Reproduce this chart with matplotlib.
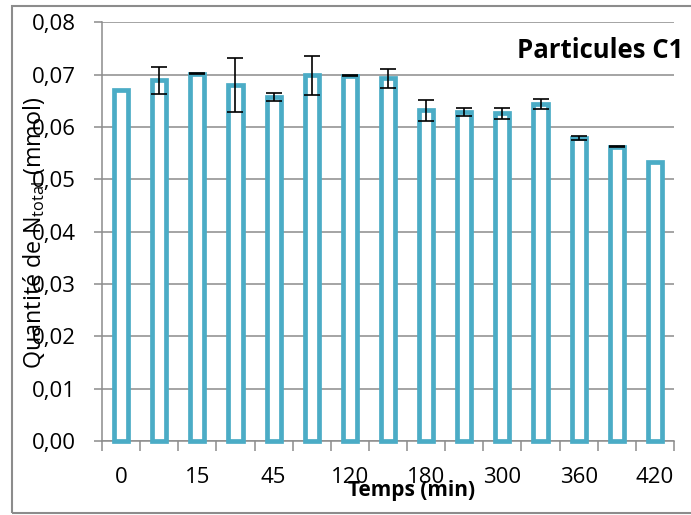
import matplotlib
matplotlib.use("Agg")
import matplotlib.pyplot as plt
from matplotlib.patches import Rectangle
from matplotlib.ticker import FuncFormatter, FixedLocator

plt.rcParams['font.family'] = ['Open Sans', 'DejaVu Sans']
plt.rcParams['mathtext.default'] = 'regular'

categories = ["0", "5", "15", "30", "45", "90", "120", "150", "180", "240", "300", "330", "360", "390", "420"]
values = [0.0670, 0.0689, 0.0702, 0.0680, 0.0657, 0.0699, 0.0698, 0.0693, 0.0632, 0.0629, 0.0626, 0.0644, 0.0579, 0.0562, 0.0533]
errors = [0.0, 0.0026, 0.0001, 0.0052, 0.0008, 0.0037, 0.0001, 0.0018, 0.0020, 0.0008, 0.0010, 0.0010, 0.0003, 0.0001, 0.0]
yticks = [0.00, 0.01, 0.02, 0.03, 0.04, 0.05, 0.06, 0.07, 0.08]

W, H = 691, 515
fig = plt.figure(figsize=(W / 100, H / 100), dpi=100)
ax = fig.add_axes([102 / W, 74 / H, (674 - 102) / W, (441 - 22.3) / H])

x = list(range(len(categories)))
ax.bar(x, values, width=0.37, color='white', edgecolor='#4BACC6', linewidth=3.4,
       zorder=3, clip_on=False)
ex = [xi for xi, e in zip(x, errors) if e > 0]
ev = [v for v, e in zip(values, errors) if e > 0]
ee = [e for e in errors if e > 0]
ax.errorbar(ex, ev, yerr=ee, fmt='none', ecolor='black', elinewidth=1.2,
            capsize=5.5, capthick=1.2, zorder=4)

ax.set_xlim(-0.5, len(categories) - 0.5)
ax.set_ylim(0, 0.08)
ax.set_yticks(yticks)
ax.yaxis.set_major_formatter(FuncFormatter(lambda v, p: f"{v:.2f}".replace('.', ',')))
ax.grid(axis='y', color='#8C8C8C', linewidth=1.1, zorder=0)
ax.set_axisbelow(True)

# x ticks: labels every other category, tick marks at category boundaries
ax.set_xticks(x[::2])
ax.set_xticklabels(categories[::2])
ax.xaxis.set_minor_locator(FixedLocator([i - 0.5 for i in range(len(categories) + 1)]))
ax.tick_params(axis='x', which='major', length=0, pad=19, labelsize=16)
ax.tick_params(axis='x', which='minor', length=7, width=1.1, color='#8C8C8C', direction='out')
ax.tick_params(axis='y', length=6, width=1.1, color='#8C8C8C', pad=13, labelsize=16)

for s in ['top', 'right']:
    ax.spines[s].set_visible(False)
for s in ['left', 'bottom']:
    ax.spines[s].set_color('#8C8C8C')
    ax.spines[s].set_linewidth(1.1)

fig.text(34 / W, 1 - 233 / H, "Quantité de N$_{total}$ (mmol)", rotation=90,
         ha='center', va='center', fontsize=16.8)
fig.text(412 / W, 1 - 496 / H, "Temps (min)", ha='center', va='baseline',
         fontsize=15, fontweight='bold')
fig.text(600 / W, 1 - 58 / H, "Particules C1", ha='center', va='baseline',
         fontsize=18.5, fontweight='bold')

fig.patches.append(Rectangle((12 / W, 1 - 513 / H), 700 / W, (513 - 6) / H,
                             transform=fig.transFigure, fill=False,
                             edgecolor='#8C8C8C', linewidth=1.5))

fig.savefig("out.png", dpi=100)
